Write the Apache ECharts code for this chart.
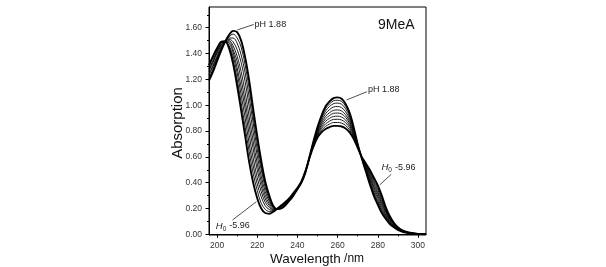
<!DOCTYPE html>
<html><head><meta charset="utf-8">
<script src="https://cdn.jsdelivr.net/npm/echarts@6/dist/echarts.min.js"></script>
<style>html,body{margin:0;padding:0;background:#fff}#c{width:606px;height:267px}</style>
</head><body><div id="c"></div>
<script>
// ---- data ----
const wavelengths = [196,198,200,202,204,206,208,210,212,214,216,218,220,222,224,226,228,230,232,234,236,238,240,242,244,246,248,250,252,254,256,258,260,262,264,266,268,270,272,274,276,278,280,282,284,286,288,290,292,294,296,300,304];
const absPH188 = [1.19,1.26,1.34,1.42,1.49,1.545,1.575,1.565,1.50,1.37,1.19,0.97,0.76,0.57,0.41,0.30,0.22,0.195,0.20,0.225,0.26,0.30,0.35,0.40,0.48,0.60,0.72,0.83,0.92,0.99,1.03,1.055,1.06,1.05,1.01,0.94,0.83,0.70,0.59,0.49,0.39,0.30,0.23,0.165,0.12,0.08,0.055,0.035,0.022,0.013,0.008,0.003,0.002];
const absS1 = [1.20,1.27,1.35,1.43,1.49,1.53,1.55,1.52,1.45,1.31,1.13,0.91,0.71,0.53,0.386,0.286,0.216,0.196,0.203,0.228,0.262,0.302,0.351,0.401,0.481,0.599,0.716,0.822,0.907,0.973,1.010,1.034,1.038,1.029,0.991,0.925,0.821,0.697,0.591,0.496,0.401,0.314,0.245,0.179,0.129,0.086,0.059,0.037,0.023,0.014,0.008,0.003,0.002];
const absS2 = [1.21,1.28,1.36,1.43,1.49,1.52,1.52,1.48,1.39,1.25,1.06,0.86,0.66,0.50,0.361,0.272,0.211,0.196,0.205,0.230,0.264,0.304,0.352,0.402,0.482,0.598,0.712,0.814,0.894,0.955,0.990,1.012,1.016,1.007,0.972,0.910,0.812,0.694,0.592,0.502,0.412,0.328,0.260,0.192,0.138,0.092,0.062,0.039,0.024,0.014,0.009,0.003,0.002];
const absS3 = [1.23,1.30,1.37,1.44,1.49,1.51,1.49,1.43,1.33,1.18,0.99,0.79,0.61,0.45,0.332,0.255,0.206,0.197,0.208,0.233,0.266,0.306,0.353,0.403,0.483,0.597,0.707,0.804,0.878,0.934,0.966,0.986,0.990,0.981,0.949,0.892,0.801,0.690,0.593,0.509,0.425,0.345,0.278,0.208,0.149,0.099,0.066,0.041,0.026,0.015,0.009,0.003,0.002];
const absS4 = [1.24,1.31,1.38,1.45,1.49,1.50,1.46,1.38,1.26,1.10,0.91,0.72,0.55,0.41,0.302,0.238,0.200,0.197,0.211,0.236,0.269,0.309,0.354,0.404,0.484,0.596,0.702,0.795,0.863,0.913,0.942,0.960,0.963,0.955,0.926,0.874,0.790,0.687,0.594,0.516,0.438,0.362,0.296,0.224,0.160,0.106,0.070,0.044,0.027,0.016,0.010,0.003,0.002];
const absS5 = [1.26,1.33,1.40,1.46,1.49,1.49,1.43,1.34,1.20,1.03,0.84,0.66,0.50,0.37,0.275,0.223,0.195,0.198,0.214,0.239,0.271,0.311,0.355,0.405,0.485,0.595,0.698,0.786,0.849,0.894,0.920,0.937,0.939,0.932,0.906,0.858,0.781,0.684,0.596,0.523,0.451,0.377,0.313,0.239,0.170,0.113,0.074,0.046,0.028,0.017,0.010,0.004,0.002];
const absS6 = [1.27,1.34,1.41,1.47,1.49,1.48,1.41,1.29,1.14,0.97,0.77,0.59,0.44,0.33,0.248,0.208,0.190,0.198,0.217,0.242,0.273,0.313,0.357,0.407,0.487,0.593,0.694,0.777,0.834,0.875,0.898,0.913,0.915,0.908,0.885,0.841,0.771,0.680,0.597,0.530,0.463,0.392,0.329,0.254,0.179,0.120,0.078,0.048,0.029,0.018,0.011,0.004,0.002];
const absS7 = [1.28,1.35,1.42,1.47,1.49,1.46,1.38,1.25,1.08,0.90,0.70,0.53,0.39,0.29,0.221,0.192,0.185,0.199,0.219,0.244,0.275,0.315,0.358,0.408,0.488,0.592,0.689,0.768,0.820,0.855,0.876,0.890,0.891,0.885,0.864,0.825,0.761,0.677,0.598,0.536,0.475,0.408,0.346,0.269,0.189,0.126,0.082,0.050,0.030,0.018,0.011,0.004,0.002];
const absS8 = [1.30,1.37,1.43,1.48,1.49,1.45,1.35,1.20,1.02,0.83,0.64,0.47,0.34,0.24,0.194,0.177,0.180,0.199,0.222,0.247,0.278,0.318,0.359,0.409,0.489,0.591,0.685,0.760,0.806,0.836,0.854,0.866,0.866,0.861,0.843,0.808,0.751,0.674,0.599,0.543,0.487,0.423,0.362,0.284,0.199,0.133,0.086,0.053,0.032,0.019,0.012,0.004,0.002];
const absH0m596 = [1.31,1.38,1.44,1.49,1.495,1.44,1.32,1.15,0.96,0.76,0.56,0.40,0.28,0.20,0.165,0.16,0.175,0.20,0.225,0.25,0.28,0.32,0.36,0.41,0.49,0.59,0.68,0.75,0.79,0.815,0.83,0.84,0.84,0.835,0.82,0.79,0.74,0.67,0.60,0.55,0.50,0.44,0.38,0.30,0.21,0.14,0.09,0.055,0.033,0.02,0.012,0.004,0.002];

const xTickValues = [200,220,240,260,280,300];
const xMinorTicks = [210,230,250,270,290];
const yTickValues = [0,0.2,0.4,0.6,0.8,1.0,1.2,1.4,1.6];
const yMinorTicks = [0.1,0.3,0.5,0.7,0.9,1.1,1.3,1.5,1.7];

// ---- chart ----
const FONT = '"Liberation Sans", Arial, Helvetica, sans-serif';
const chart = echarts.init(document.getElementById('c'));
const thin = [absS1,absS2,absS3,absS4,absS5,absS6,absS7,absS8];
const series = [];
thin.forEach((v,i)=>series.push({name:'s'+(i+1), values:v, width:0.9}));
series.push({name:'pH 1.88', values:absPH188, width:1.9});
series.push({name:'H0 -5.96', values:absH0m596, width:1.9});

const X0 = 196, X1 = 304, Y0 = -0.005, Y1 = 1.76;
const tickLine = {lineStyle:{color:'#000', width:1}};
chart.setOption({
  animation:false,
  grid:{left:209, top:7, width:217, height:228, show:true, borderColor:'#000', borderWidth:1},
  xAxis:[
    {type:'value', min:X0, max:X1, axisLine:{lineStyle:{color:'#000'}}, splitLine:{show:false},
     axisTick:Object.assign({customValues:xTickValues, length:3.5}, tickLine),
     axisLabel:{customValues:xTickValues, fontSize:8.5, color:'#333', margin:6, fontFamily:FONT}},
    {type:'value', min:X0, max:X1, position:'bottom', axisLine:{show:false}, splitLine:{show:false},
     axisLabel:{show:false}, axisTick:Object.assign({customValues:xMinorTicks, length:2}, tickLine)}
  ],
  yAxis:[
    {type:'value', min:Y0, max:Y1, axisLine:{show:true, lineStyle:{color:'#000'}}, splitLine:{show:false},
     axisTick:Object.assign({show:true, customValues:yTickValues, length:3.5}, tickLine),
     axisLabel:{customValues:yTickValues, fontSize:8.5, color:'#333', margin:7, fontFamily:FONT,
       formatter:v=>Number(v).toFixed(2)}},
    {type:'value', min:Y0, max:Y1, position:'left', axisLine:{show:false}, splitLine:{show:false},
     axisLabel:{show:false}, axisTick:Object.assign({show:true, customValues:yMinorTicks, length:2}, tickLine)}
  ],
  series: series.map(s=>({
    name:s.name, type:'line', xAxisIndex:0, yAxisIndex:0, symbol:'none', smooth:0.35,
    lineStyle:{color:'#000', width:s.width}, silent:true,
    data: wavelengths.map((w,i)=>[w, s.values[i]])
  }))
});

// ---- annotations ----
const annotations = [
  {text:'pH 1.88', line:[[210.05,1.582],[218.3,1.625]], at:[218.7,1.628], h:false},
  {text:'pH 1.88', line:[[264.4,1.04],[274.6,1.104]], at:[275.1,1.118], h:false},
  {text:'-5.96', line:[[280.9,0.382],[286.7,0.465]], at:[281.8,0.516], h:true},
  {text:'-5.96', line:[[207.7,0.111],[219.6,0.253]], at:[199.4,0.065], h:true}
];
const px = p => chart.convertToPixel({gridIndex:0}, p);
const g = [];
annotations.forEach(a=>{
  const p1 = px(a.line[0]), p2 = px(a.line[1]);
  g.push({type:'line', shape:{x1:p1[0],y1:p1[1],x2:p2[0],y2:p2[1]}, style:{stroke:'#222', lineWidth:0.8}});
  const t = px(a.at);
  if (a.h) {
    g.push({type:'text', x:t[0], y:t[1], style:{text:'H', fontSize:9.5, fontStyle:'italic', fontFamily:FONT, fill:'#222', verticalAlign:'middle', align:'left'}});
    g.push({type:'text', x:t[0]+6.8, y:t[1]+3, style:{text:'0', fontSize:6.5, fontFamily:FONT, fill:'#222', verticalAlign:'middle', align:'left'}});
    g.push({type:'text', x:t[0]+13.5, y:t[1], style:{text:a.text, fontSize:9, fontFamily:FONT, fill:'#222', verticalAlign:'middle', align:'left'}});
  } else {
    g.push({type:'text', x:t[0], y:t[1], style:{text:a.text, fontSize:9, fontFamily:FONT, fill:'#222', verticalAlign:'middle', align:'left'}});
  }
});
const lbl = px([289.2,1.621]);
g.push({type:'text', x:lbl[0], y:lbl[1], style:{text:'9MeA', fontSize:14, fontFamily:FONT, fill:'#111', align:'center', verticalAlign:'middle'}});
g.push({type:'text', x:178, y:123, rotation:Math.PI/2, style:{text:'Absorption', fontSize:15, fontFamily:FONT, fill:'#111', align:'center', verticalAlign:'middle'}});
g.push({type:'text', x:317, y:259, style:{text:'{a|Wavelength} {b|/nm}', fontFamily:FONT, fill:'#111', align:'center', verticalAlign:'middle',
  rich:{a:{fontSize:13.5, fontFamily:FONT, fill:'#111'}, b:{fontSize:12, fontFamily:FONT, fill:'#111'}}}});
chart.setOption({graphic:g});
</script></body></html>
